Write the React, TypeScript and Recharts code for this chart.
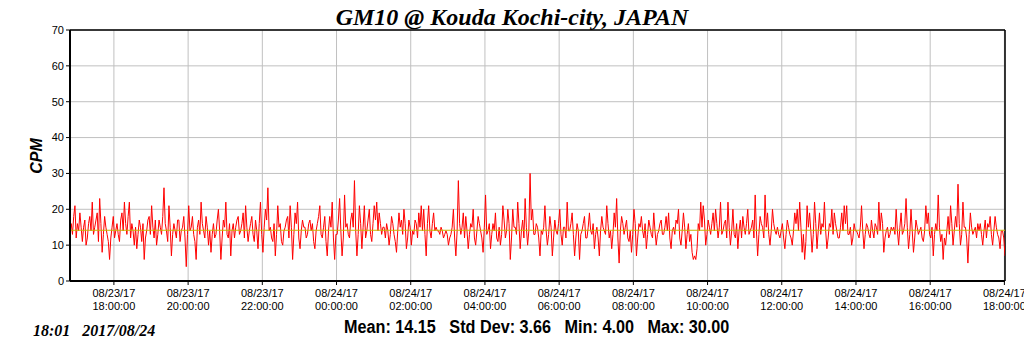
import React from "react";
import { LineChart, Line, XAxis, YAxis, CartesianGrid, ReferenceLine } from "recharts";

// minutes relative to 08/23/17 18:00:00
const START_MIN = -71;
const STEP_MIN = 2;

const cpmValues: number[] = [
  // 16:49 - 19:57
  14,16, 13,18, 21,12, 16,14, 19,15, 11,15, 17,10, 12,16, 18,14, 22,13, 15,17, 19,11, 23,16, 8,13, 18,15, 13,11,
  6,12, 15,18, 12,14, 16,13, 11,17, 19,14, 22,16, 13,18, 22,12, 16,14, 10,15, 9,13, 17,15, 11,16, 6,12, 14,17,
  18,13, 21,15, 12,17, 10,13, 17,15, 13,18, 26,16, 14,11, 21,15, 7,13, 16,14, 12,17, 17,11, 14,15, 18,12, 4,13,
  // 20:00 - 23:05
  21,14, 15,18, 13,11, 6,15, 17,13, 22,16, 14,12, 18,15, 10,14, 8,13, 16,12, 13,17, 20,14, 6,12, 17,15, 22,13,
  12,16, 7,14, 16,12, 15,17, 18,13, 14,16, 19,12, 21,15, 11,14, 16,18, 13,11, 17,14, 9,16, 22,13, 8,15, 20,17,
  26,14, 15,12, 11,16, 7,13, 21,15, 16,11, 10,14, 15,17, 18,12, 21,15, 6,13, 19,16, 22,12, 9,14, 17,15,
  // 23:09 - 02:17
  15,12, 13,16, 17,14, 16,11, 9,14, 16,18, 21,13, 12,15, 18,11, 7,14, 18,15, 22,12, 6,13, 13,17, 23,14, 7,12,
  24,15, 16,13, 12,17, 19,15, 28,14, 7,13, 21,16, 9,15, 21,12, 14,17, 20,13, 11,16, 21,17, 22,14, 19,16, 13,15,
  15,12, 16,14, 10,13, 18,16, 13,11, 8,14, 19,15, 17,13, 20,16, 9,12, 17,15, 10,14, 13,17, 16,12, 19,15, 21,14,
  // 02:21 - 05:29
  20,13, 7,16, 21,14, 12,16, 19,14, 15,14, 14,13, 15,14, 12,13, 14,13, 10,12, 13,15, 20,12, 7,14, 28,16, 13,15,
  19,12, 18,14, 9,13, 16,15, 20,12, 10,14, 18,16, 14,12, 8,15, 24,13, 14,16, 9,13, 16,14, 19,12, 11,15, 10,13,
  21,17, 12,14, 20,16, 6,12, 20,15, 15,13, 22,16, 9,14, 17,12, 23,15, 10,14, 30,17, 20,13, 13,16, 15,12, 7,14,
  // 05:33 - 08:37
  13,15, 21,14, 10,13, 18,15, 7,12, 17,14, 13,16, 20,13, 10,15, 15,12, 22,14, 14,16, 19,13, 7,12, 16,14, 6,13,
  14,16, 18,12, 12,15, 19,14, 13,16, 9,13, 15,12, 7,14, 18,15, 14,13, 21,16, 12,14, 9,13, 19,15, 23,12, 5,14,
  18,16, 13,15, 17,12, 11,14, 8,13, 20,16, 7,12, 16,15, 18,14, 12,16, 9,13, 17,15, 13,12, 19,14, 10,13,
  // 08:41 - 11:49
  14,16, 17,13, 13,15, 18,14, 19,12, 9,14, 15,13, 17,16, 20,12, 10,14, 19,15, 9,13, 16,11, 13,8, 6,7, 6,9,
  16,14, 22,15, 21,17, 10,13, 17,15, 13,16, 19,14, 20,16, 12,15, 22,13, 14,16, 17,12, 22,15, 10,14, 20,13, 12,16,
  9,14, 17,12, 18,15, 13,16, 20,13, 14,15, 17,12, 24,14, 7,13, 18,16, 15,12, 24,15, 19,13, 10,14, 20,16, 14,13,
  // 11:53 - 15:01
  15,13, 12,14, 16,12, 9,13, 17,15, 13,12, 10,14, 19,16, 20,14, 22,15, 8,13, 6,11, 21,15, 19,14, 8,13, 22,16,
  9,14, 19,13, 16,15, 22,14, 9,12, 16,15, 20,13, 19,16, 14,12, 12,15, 19,14, 21,16, 21,13, 13,15, 10,12, 16,14,
  14,13, 12,15, 21,14, 9,13, 16,15, 13,12, 17,14, 12,16, 15,13, 22,14, 19,16, 8,12, 14,15, 12,13, 15,14, 15,13,
  // 15:05 - 18:01
  20,14, 10,15, 19,13, 14,16, 23,15, 9,13, 20,14, 8,12, 17,15, 13,14, 15,12, 11,14, 21,16, 19,13, 12,15, 7,13,
  16,14, 24,15, 11,13, 6,12, 10,14, 18,13, 21,16, 10,14, 18,15, 27,16, 10,13, 22,15, 15,12, 5,13, 19,15, 13,14,
  15,12, 16,14, 16,13, 10,14, 17,12, 16,15, 18,13, 10,14, 18,15, 13,12, 9,14, 14,12, 7,
];

const chartData = cpmValues.map((v, i) => ({ t: START_MIN + i * STEP_MIN, cpm: v }));

const xTicks = [0, 120, 240, 360, 480, 600, 720, 840, 960, 1080, 1200, 1320, 1440];
const xTickDates = [
  "08/23/17", "08/23/17", "08/23/17", "08/24/17", "08/24/17", "08/24/17", "08/24/17",
  "08/24/17", "08/24/17", "08/24/17", "08/24/17", "08/24/17", "08/24/17",
];
const xTickTimes = [
  "18:00:00", "20:00:00", "22:00:00", "00:00:00", "02:00:00", "04:00:00", "06:00:00",
  "08:00:00", "10:00:00", "12:00:00", "14:00:00", "16:00:00", "18:00:00",
];
const yTicks = [0, 10, 20, 30, 40, 50, 60, 70];

const titleText = "GM10 @ Kouda Kochi-city, JAPAN";
const statsText = "Mean: 14.15\u00a0\u00a0\u00a0Std Dev: 3.66\u00a0\u00a0\u00a0Min: 4.00\u00a0\u00a0\u00a0Max: 30.00";
const stampText = "18:01\u00a0\u00a0\u00a02017/08/24";
const meanValue = 14.15;

const SANS = "'Liberation Sans', Arial, sans-serif";
const SERIF = "'Liberation Serif', 'Times New Roman', serif";

const XTick = (props: any) => {
  const { x, y, payload } = props;
  const idx = xTicks.indexOf(payload.value);
  return (
    <g transform={`translate(${x},${y})`}>
      <text textAnchor="middle" fontSize={11} fontFamily={SANS} fill="#000">
        <tspan x={0} dy={10}>{xTickDates[idx]}</tspan>
        <tspan x={0} dy={13}>{xTickTimes[idx]}</tspan>
      </text>
    </g>
  );
};

export default function App() {
  return (
    <div style={{ position: "absolute", left: 0, top: 0, width: 1024, height: 351, background: "#fff", overflow: "hidden" }}>
      <LineChart
        width={1024}
        height={351}
        data={chartData}
        margin={{ top: 30, right: 19, bottom: 30, left: 10 }}
      >
        <CartesianGrid stroke="#c0c0c0" strokeWidth={1} />
        <XAxis
          dataKey="t"
          type="number"
          domain={[-71, 1441]}
          ticks={xTicks}
          interval={0}
          height={40}
          tick={<XTick />}
          tickSize={4}
          axisLine={{ stroke: "#000", strokeWidth: 2 }}
          tickLine={{ stroke: "#000" }}
          allowDataOverflow
        />
        <YAxis
          domain={[0, 70]}
          ticks={yTicks}
          width={60}
          tickSize={4}
          tick={{ fontSize: 11, fill: "#000", fontFamily: SANS }}
          axisLine={{ stroke: "#000", strokeWidth: 2 }}
          tickLine={{ stroke: "#000" }}
          allowDataOverflow
        />
        <ReferenceLine y={70} stroke="#000" strokeWidth={1.5} />
        <ReferenceLine x={1441} stroke="#000" strokeWidth={1.5} />
        <Line
          type="linear"
          dataKey="cpm"
          stroke="#ff0000"
          strokeWidth={1}
          dot={false}
          isAnimationActive={false}
        />
        <ReferenceLine y={meanValue} stroke="#c8b400" strokeWidth={1} />
      </LineChart>
      <div
        style={{
          position: "absolute", left: 0, top: 3, width: 1024, textAlign: "center",
          fontFamily: SERIF, fontStyle: "italic", fontWeight: "bold", fontSize: 24, lineHeight: "28px",
        }}
      >
        {titleText}
      </div>
      <div
        style={{
          position: "absolute", left: 37, top: 156, transform: "translate(-50%, -50%) rotate(-90deg)",
          fontFamily: SANS, fontStyle: "italic", fontWeight: "bold", fontSize: 16, whiteSpace: "nowrap",
        }}
      >
        CPM
      </div>
      <div
        style={{
          position: "absolute", left: 344, top: 316, whiteSpace: "nowrap",
          transform: "scaleX(0.9)", transformOrigin: "left center",
          fontFamily: SANS, fontWeight: "bold", fontSize: 18, lineHeight: "22px",
        }}
      >
        {statsText}
      </div>
      <div
        style={{
          position: "absolute", left: 33, top: 321, whiteSpace: "nowrap",
          fontFamily: SERIF, fontStyle: "italic", fontWeight: "bold", fontSize: 16, lineHeight: "20px",
        }}
      >
        {stampText}
      </div>
    </div>
  );
}
